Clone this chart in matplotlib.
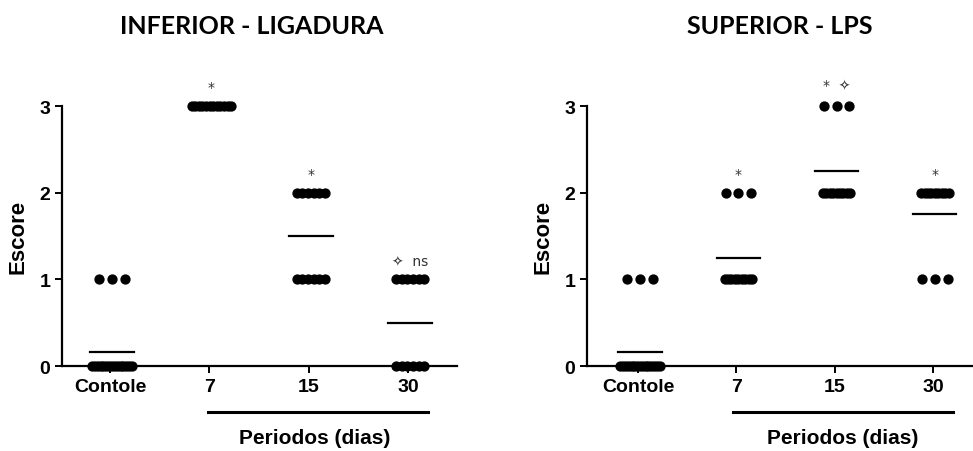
import matplotlib
matplotlib.use("Agg")
import matplotlib.pyplot as plt
import numpy as np

# groups on the x axis
grupos = ["Contole", "7", "15", "30"]

# scores per animal
lig_controle = [0] * 15 + [1] * 3
lig_7 = [3] * 12
lig_15 = [2] * 6 + [1] * 6
lig_30 = [1] * 6 + [0] * 6

lps_controle = [0] * 15 + [1] * 3
lps_7 = [2] * 3 + [1] * 9
lps_15 = [3] * 3 + [2] * 9
lps_30 = [2] * 9 + [1] * 3

# significance marks above each group (text, y)
lig_marcas = [None, ("*", 3.22), ("*", 2.22), ("\u2727  ns", 1.2)]
lps_marcas = [None, ("*", 2.22), ("*  \u2727", 3.24), ("*", 2.22)]

titulos = ["INFERIOR - LIGADURA", "SUPERIOR - LPS"]

plt.rcParams['font.family'] = ['Liberation Sans', 'DejaVu Sans']


def spread(k):
   if k == 1:
      return np.array([0.0])
   w = min(0.13 * (k - 1), 0.28 if k < 10 else 0.4)
   return np.linspace(-w / 2, w / 2, k)


def painel(ax, dados, marcas, xlim):
   for i, d in enumerate(dados):
      d = np.array(d)
      for v in np.unique(d):
         n = np.sum(d == v)
         ax.plot(i + spread(n) + 0.02, [v] * n, 'o', color='black', ms=6.4,
                 clip_on=False, zorder=3)
      m = d.mean()
      ax.plot([i - 0.2, i + 0.24], [m, m], color='black', lw=1.6, zorder=2)
      if marcas[i] is not None:
         txt, yy = marcas[i]
         ax.text(i + 0.02, yy, txt, ha='center', va='center', fontsize=10,
                 color='#333333', family=['DejaVu Sans'])
   ax.set_xlim(xlim)
   ax.set_ylim(0, 3)
   ax.set_yticks([0, 1, 2, 3])
   ax.set_xticks(range(len(grupos)))
   ax.set_xticklabels(grupos)
   for s in ['top', 'right']:
      ax.spines[s].set_visible(False)
   for s in ['left', 'bottom']:
      ax.spines[s].set_linewidth(1.6)
   ax.tick_params(width=1.4, length=5, labelsize=14)
   for lab in ax.get_xticklabels() + ax.get_yticklabels():
      lab.set_fontweight('bold')
   ax.set_ylabel('Escore', fontsize=16, fontweight='bold', labelpad=8)


fig = plt.figure(figsize=(9.73, 4.52), dpi=100)
ax1 = fig.add_axes([62 / 973, 0.188, 395 / 973, 0.575])
ax2 = fig.add_axes([587 / 973, 0.188, 395 / 973, 0.575])

painel(ax1, [lig_controle, lig_7, lig_15, lig_30], lig_marcas, (-0.483, 3.49))
painel(ax2, [lps_controle, lps_7, lps_15, lps_30], lps_marcas, (-0.52, 3.5))

fig.text(252 / 973, 1 - 27 / 452, titulos[0], ha='center', va='center',
         fontsize=18, fontweight='bold', family=['Lato', 'DejaVu Sans'])
fig.text(780 / 973, 1 - 27 / 452, titulos[1], ha='center', va='center',
         fontsize=18, fontweight='bold', family=['Lato', 'DejaVu Sans'])

# bar and label under the day groups
for x0, x1, xc in [(208, 428, 315), (733, 953, 843)]:
   fig.add_artist(plt.Line2D([x0 / 973, x1 / 973], [1 - 413 / 452] * 2,
                             color='black', lw=2.2, transform=fig.transFigure))
   fig.text(xc / 973, 1 - 439 / 452, 'Periodos (dias)', ha='center', va='center',
            fontsize=15, fontweight='bold')

fig.savefig('out.png', dpi=100, facecolor='white')
